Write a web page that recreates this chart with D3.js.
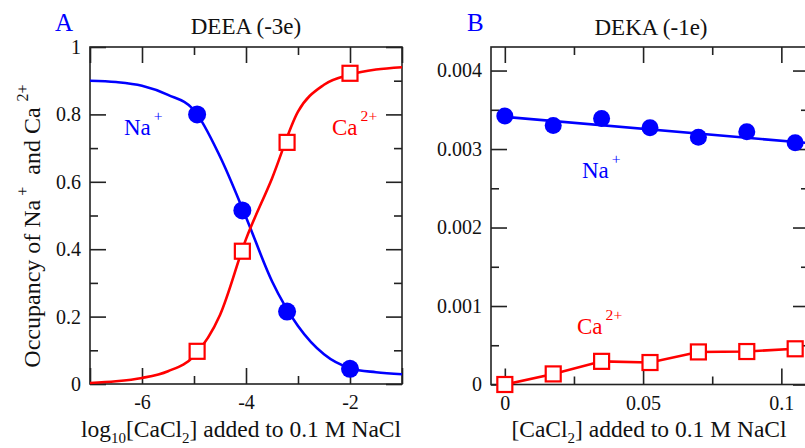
<!DOCTYPE html>
<html>
<head>
<meta charset="utf-8">
<script src="https://cdn.jsdelivr.net/npm/d3@7"></script>
<style>
  html, body { margin: 0; padding: 0; background: #ffffff; }
  svg { display: block; }
  text { font-family: "Liberation Serif", "Times New Roman", "DejaVu Serif", serif; }
</style>
</head>
<body>
<svg id="chart" width="805" height="448"></svg>
<script>
// ---------- Panel A data (DEEA, -3e) ----------
const aPointX  = [-4.94, -4.07, -3.21, -2.0];
const aNaPts   = [0.800, 0.515, 0.215, 0.045];
const aCaPts   = [0.097, 0.394, 0.717, 0.922];
const aCurveX  = [-7, -6.5, -6, -5.5, -5, -4.5, -4, -3.5, -3, -2.5, -2, -1.5, -1];
const aNaCurve = [0.900, 0.896, 0.885, 0.858, 0.813, 0.675, 0.495, 0.305, 0.172, 0.088, 0.047, 0.035, 0.029];
const aCaCurve = [0.003, 0.008, 0.018, 0.038, 0.083, 0.205, 0.430, 0.610, 0.808, 0.888, 0.918, 0.933, 0.940];
const aXMajor = [-7, -6, -4, -2, -1];
const aXMajorLabels = [-6, -4, -2];
const aXMinor = [-5, -3];
const aYMajor = [0, 0.2, 0.4, 0.6, 0.8, 1];
const aYMinor = [0.1, 0.3, 0.5, 0.7, 0.9];

// ---------- Panel B data (DEKA, -1e) ----------
const bX    = [0, 0.0175, 0.035, 0.0525, 0.07, 0.0875, 0.105];
const bNa   = [0.00342, 0.00330, 0.00339, 0.00327, 0.00315, 0.00322, 0.00308];
const bCa   = [0.0, 0.000135, 0.000295, 0.000280, 0.000415, 0.000420, 0.000455];
const bFitX  = [0, 0.11];
const bFitNa = [0.00341, 0.003075];
const bXMajor = [0, 0.05, 0.1];
const bXMinor = [0.025, 0.075];
const bYMajor = [0, 0.001, 0.002, 0.003, 0.004];
const bYMinor = [0.0005, 0.0015, 0.0025, 0.0035];

const BLUE = "#0000ff", RED = "#ff0000", INK = "#222222";
const SERIF = "'Liberation Serif', 'Times New Roman', 'DejaVu Serif', serif";
const svg = d3.select("#chart");

function frame(g, x, y, opts) {
  const [xa, xb] = x.range(), [yb, ya] = y.range();
  const MAJ = 16, MIN = 8;
  const mk = (axisFn, scale, vals, size, labels, fmt, pad) => {
    const ax = axisFn(scale).tickValues(vals).tickSizeInner(-size).tickSizeOuter(0).tickPadding(pad);
    if (!labels) ax.tickFormat(() => ""); else ax.tickFormat(fmt);
    return ax;
  };
  g.append("g").attr("transform", `translate(${xa},0)`).call(mk(d3.axisLeft, y, opts.yMajor, MAJ, true, opts.yFmt, 9));
  g.append("g").attr("transform", `translate(${xa},0)`).call(mk(d3.axisLeft, y, opts.yMinor, MIN, false, null, 0));
  g.append("g").attr("transform", `translate(${xb},0)`).call(mk(d3.axisRight, y, opts.yMajor, MAJ, false, null, 0));
  g.append("g").attr("transform", `translate(${xb},0)`).call(mk(d3.axisRight, y, opts.yMinor, MIN, false, null, 0));
  g.append("g").attr("transform", `translate(0,${yb})`).call(mk(d3.axisBottom, x, opts.xMajor, MAJ, true, opts.xFmt, 11));
  g.append("g").attr("transform", `translate(0,${yb})`).call(mk(d3.axisBottom, x, opts.xMinor, MIN, false, null, 0));
  g.append("g").attr("transform", `translate(0,${ya})`).call(mk(d3.axisTop, x, opts.xMajor, MAJ, false, null, 0));
  g.append("g").attr("transform", `translate(0,${ya})`).call(mk(d3.axisTop, x, opts.xMinor, MIN, false, null, 0));
  g.selectAll(".domain").remove();
  g.selectAll(".tick line").attr("stroke", INK).attr("stroke-width", 1.6);
  g.selectAll(".tick text").attr("font-family", SERIF).attr("font-size", 20).attr("fill", "#111");
  g.append("rect").attr("x", xa).attr("y", ya).attr("width", xb - xa).attr("height", yb - ya)
    .attr("fill", "none").attr("stroke", INK).attr("stroke-width", 1.6);
}

function supLabel(g, x, y, base, sup, color, size) {
  const t = g.append("text").attr("x", x).attr("y", y).attr("fill", color).attr("font-size", size).attr("font-family", SERIF);
  t.append("tspan").text(base);
  t.append("tspan").attr("dy", -size * 0.6).attr("dx", 3).attr("font-size", size * 0.68).text(sup);
}

// ================= Panel A =================
{
  const x = d3.scaleLinear().domain([-7, -1]).range([90, 402]);
  const y = d3.scaleLinear().domain([0, 1]).range([384, 47]);
  const g = svg.append("g");
  const fmtY = d => d === 0 ? "0" : d === 1 ? "1" : d3.format(".1f")(d);
  frame(g, x, y, {
    xMajor: aXMajor, xMinor: aXMinor, yMajor: aYMajor, yMinor: aYMinor,
    yFmt: fmtY, xFmt: d => aXMajorLabels.includes(d) ? String(d) : ""
  });
  const line = d3.line().x(d => x(d[0])).y(d => y(d[1])).curve(d3.curveMonotoneX);
  g.append("path").datum(aCurveX.map((v, i) => [v, aNaCurve[i]])).attr("d", line)
    .attr("fill", "none").attr("stroke", BLUE).attr("stroke-width", 2.6);
  g.append("path").datum(aCurveX.map((v, i) => [v, aCaCurve[i]])).attr("d", line)
    .attr("fill", "none").attr("stroke", RED).attr("stroke-width", 2.6);
  g.selectAll("circle.na").data(aPointX.map((v, i) => [v, aNaPts[i]])).enter().append("circle")
    .attr("cx", d => x(d[0])).attr("cy", d => y(d[1])).attr("r", 9).attr("fill", BLUE);
  const s = 15;
  g.selectAll("rect.ca").data(aPointX.map((v, i) => [v, aCaPts[i]])).enter().append("rect")
    .attr("x", d => x(d[0]) - s / 2).attr("y", d => y(d[1]) - s / 2).attr("width", s).attr("height", s)
    .attr("fill", "#fff").attr("stroke", RED).attr("stroke-width", 2.2);

  supLabel(g, 124, 135, "Na", "+", BLUE, 23);
  supLabel(g, 332, 135, "Ca", "2+", RED, 23);
  g.append("text").attr("x", 246).attr("y", 34).attr("text-anchor", "middle").attr("font-size", 23)
    .attr("font-family", SERIF).attr("fill", "#111").text("DEEA (-3e)");
  g.append("text").attr("x", 55).attr("y", 31).attr("font-size", 25).attr("font-family", SERIF).attr("fill", BLUE).text("A");

  const xt = g.append("text").attr("x", 241).attr("y", 437).attr("text-anchor", "middle").attr("font-size", 23.5)
    .attr("font-family", SERIF).attr("fill", "#111");
  xt.append("tspan").text("log");
  xt.append("tspan").attr("dy", 6).attr("font-size", 15).text("10");
  xt.append("tspan").attr("dy", -6).text("[CaCl");
  xt.append("tspan").attr("dy", 6).attr("font-size", 15).text("2");
  xt.append("tspan").attr("dy", -6).text("] added to 0.1 M NaCl");

  const yt = g.append("text").attr("transform", "translate(40,226) rotate(-90)").attr("text-anchor", "middle")
    .attr("font-size", 24).attr("font-family", SERIF).attr("fill", "#111");
  yt.append("tspan").text("Occupancy of Na");
  yt.append("tspan").attr("dy", -12).attr("dx", 4).attr("font-size", 16).text("+");
  yt.append("tspan").attr("dy", 12).attr("dx", 6).text(" and Ca");
  yt.append("tspan").attr("dy", -12).attr("dx", 6).attr("font-size", 16).text("2+");
}

// ================= Panel B =================
{
  const x = d3.scaleLinear().domain([-0.005, 0.11]).range([491, 809]);
  const y = d3.scaleLinear().domain([0, 0.0043]).range([384.5, 47]);
  const g = svg.append("g");
  frame(g, x, y, {
    xMajor: bXMajor, xMinor: bXMinor, yMajor: bYMajor, yMinor: bYMinor,
    yFmt: d => d === 0 ? "0" : d3.format(".3f")(d),
    xFmt: d => d === 0 ? "0" : d === 0.1 ? "0.1" : d3.format(".2f")(d)
  });
  const line = d3.line().x(d => x(d[0])).y(d => y(d[1]));
  g.append("path").datum(bFitX.map((v, i) => [v, bFitNa[i]])).attr("d", line)
    .attr("fill", "none").attr("stroke", BLUE).attr("stroke-width", 2.6);
  g.append("path").datum(bX.map((v, i) => [v, bCa[i]])).attr("d", line)
    .attr("fill", "none").attr("stroke", RED).attr("stroke-width", 2.6);
  g.selectAll("circle.na").data(bX.map((v, i) => [v, bNa[i]])).enter().append("circle")
    .attr("cx", d => x(d[0])).attr("cy", d => y(d[1])).attr("r", 8.5).attr("fill", BLUE);
  const s = 15;
  g.selectAll("rect.ca").data(bX.map((v, i) => [v, bCa[i]])).enter().append("rect")
    .attr("x", d => x(d[0]) - s / 2).attr("y", d => y(d[1]) - s / 2).attr("width", s).attr("height", s)
    .attr("fill", "#fff").attr("stroke", RED).attr("stroke-width", 2.2);

  supLabel(g, 582, 178, "Na", "+", BLUE, 23);
  supLabel(g, 577, 334, "Ca", "2+", RED, 23);
  g.append("text").attr("x", 651).attr("y", 35).attr("text-anchor", "middle").attr("font-size", 23)
    .attr("font-family", SERIF).attr("fill", "#111").text("DEKA (-1e)");
  g.append("text").attr("x", 467).attr("y", 31).attr("font-size", 25).attr("font-family", SERIF).attr("fill", BLUE).text("B");

  const xt = g.append("text").attr("x", 649).attr("y", 437).attr("text-anchor", "middle").attr("font-size", 23.5)
    .attr("font-family", SERIF).attr("fill", "#111");
  xt.append("tspan").text("[CaCl");
  xt.append("tspan").attr("dy", 6).attr("font-size", 15).text("2");
  xt.append("tspan").attr("dy", -6).text("] added to 0.1 M NaCl");
}
</script>
</body>
</html>
